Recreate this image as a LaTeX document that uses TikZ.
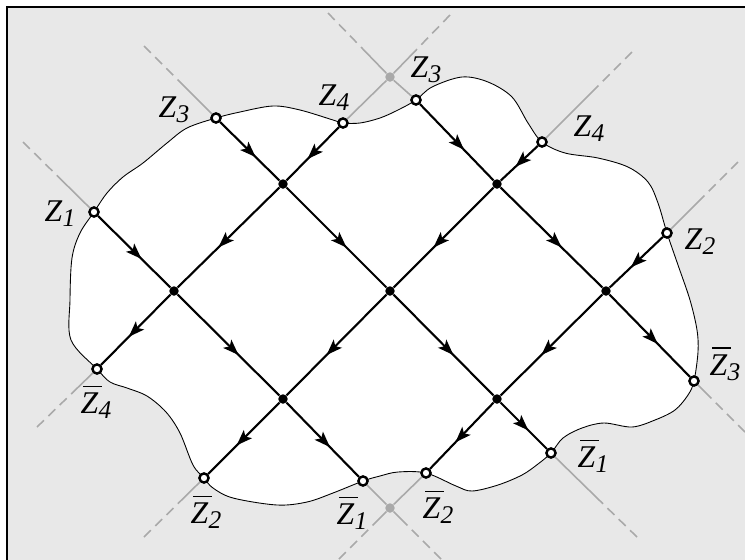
\documentclass[tikz,border=0pt]{standalone}
\usepackage{fontspec}
\setmainfont{Liberation Serif}
\usepackage{tikz}
\usetikzlibrary{arrows.meta,calc,backgrounds,decorations.markings}
\definecolor{fundo}{HTML}{E8E8E8}
\definecolor{cinza}{HTML}{A9A9A9}

\newcommand{\zl}[1]{\textit{Z\kern0.2pt\raisebox{-2.8pt}{\fontsize{14.5}{15}\selectfont #1}}}
\newcommand{\zbl}[1]{\textit{\rlap{\kern1.5pt\raisebox{15pt}{\rule{10.5pt}{0.9pt}}}Z\kern0.2pt\raisebox{-2.8pt}{\fontsize{14.5}{15}\selectfont #1}}}

\begin{document}
\begin{tikzpicture}[x=0.02cm, y=-0.02cm,
  ponto/.style={circle, fill=black, inner sep=0pt, minimum size=5.4pt},
  borda/.style={circle, draw=black, fill=white, line width=1.4pt, inner sep=0pt, minimum size=5.2pt},
  fantasma/.style={circle, fill=cinza, inner sep=0pt, minimum size=5.4pt},
  seta/.style={line width=1.2pt, postaction={decorate},
               decoration={markings, mark=at position 0.6 with {\arrow{Stealth[length=9pt,width=6.5pt,inset=2pt]}}}},
  prolong/.style={draw=cinza, line width=0.9pt, dash pattern=on 5.5pt off 3.5pt on 5.5pt off 3.5pt on 5.5pt off 3.5pt on 200pt},
  guia/.style={draw=cinza, line width=0.9pt},
  rotulo/.style={inner sep=0pt, font=\fontsize{18}{20}\selectfont}]

  \useasboundingbox (0,0) rectangle (745,559);

  % cruzamentos
  \node[ponto] (dTL) at (283,184) {};
  \node[ponto] (dTR) at (497,184) {};
  \node[ponto] (dML) at (174,291) {};
  \node[ponto] (dMC) at (390,291) {};
  \node[ponto] (dMR) at (606,291) {};
  \node[ponto] (dBL) at (283,399) {};
  \node[ponto] (dBR) at (497,399) {};
  \node[fantasma] (gtop) at (390,77) {};
  \node[fantasma] (gbot) at (390,508) {};

  % pontos da fronteira
  \node[borda] (z1)  at (94,212) {};
  \node[borda] (z3a) at (216,118) {};
  \node[borda] (z4a) at (343,123) {};
  \node[borda] (z3b) at (416,100) {};
  \node[borda] (z4b) at (542,142) {};
  \node[borda] (z2)  at (667,233) {};
  \node[borda] (w3)  at (694,381) {};
  \node[borda] (w1b) at (551,453) {};
  \node[borda] (w2b) at (426,473) {};
  \node[borda] (w1a) at (363,481) {};
  \node[borda] (w2a) at (204,478) {};
  \node[borda] (w4)  at (97,369) {};

  \coordinate (e1)    at (23,142);
  \coordinate (e3a)   at (144,46);
  \coordinate (etop3) at (328,13);
  \coordinate (etop4) at (450,15);
  \coordinate (e4b)   at (632,52);
  \coordinate (e2)    at (738,162);
  \coordinate (ew3)   at (745,432);
  \coordinate (ew1b)  at (637,537);
  \coordinate (ebot1) at (441,559);
  \coordinate (ebot2) at (339,559);
  \coordinate (ew2a)  at (144,537);
  \coordinate (ew4)   at (37,427);

  % linhas descendo para a direita
  \draw[seta] (z1) -- (dML);
  \draw[seta] (dML) -- (dBL);
  \draw[seta] (dBL) -- (w1a);
  \draw[seta] (z3a) -- (dTL);
  \draw[seta] (dTL) -- (dMC);
  \draw[seta] (dMC) -- (dBR);
  \draw[seta] (dBR) -- (w1b);
  \draw[seta] (z3b) -- (dTR);
  \draw[seta] (dTR) -- (dMR);
  \draw[seta] (dMR) -- (w3);
  % linhas descendo para a esquerda
  \draw[seta] (z4a) -- (dTL);
  \draw[seta] (dTL) -- (dML);
  \draw[seta] (dML) -- (w4);
  \draw[seta] (z4b) -- (dTR);
  \draw[seta] (dTR) -- (dMC);
  \draw[seta] (dMC) -- (dBL);
  \draw[seta] (dBL) -- (w2a);
  \draw[seta] (z2) -- (dMR);
  \draw[seta] (dMR) -- (dBR);
  \draw[seta] (dBR) -- (w2b);

  % prolongamentos
  \draw[prolong] (e1) -- (z1);
  \draw[prolong] (e3a) -- (z3a);
  \draw[prolong] (etop3) -- (gtop);
  \draw[guia] (gtop) -- (z3b);
  \draw[prolong] (etop4) -- (gtop);
  \draw[guia] (gtop) -- (z4a);
  \draw[prolong] (e4b) -- (z4b);
  \draw[prolong] (e2) -- (z2);
  \draw[prolong] (ew3) -- (w3);
  \draw[prolong] (ew1b) -- (w1b);
  \draw[prolong] (ebot1) -- (gbot);
  \draw[guia] (gbot) -- (w1a);
  \draw[prolong] (ebot2) -- (gbot);
  \draw[guia] (gbot) -- (w2b);
  \draw[prolong] (ew2a) -- (w2a);
  \draw[prolong] (ew4) -- (w4);

  % rotulos
  \node[rotulo] (lz1)  at ($(z1)+(-34,2)$)   {\zl{1}};
  \node[rotulo] (lz3a) at ($(z3a)+(-42,-8)$) {\zl{3}};
  \node[rotulo] (lz4a) at ($(z4a)+(-9,-25)$) {\zl{4}};
  \node[rotulo] (lz3b) at ($(z3b)+(10,-30)$) {\zl{3}};
  \node[rotulo] (lz4b) at ($(z4b)+(47,-13)$) {\zl{4}};
  \node[rotulo] (lz2)  at ($(z2)+(33,9)$)    {\zl{2}};
  \node[rotulo] (lw3)  at ($(w3)+(31,-17)$)  {\zbl{3}};
  \node[rotulo] (lw1b) at ($(w1b)+(42,3)$)   {\zbl{1}};
  \node[rotulo] (lw2b) at ($(w2b)+(12,34)$)  {\zbl{2}};
  \node[rotulo] (lw1a) at ($(w1a)+(-11,32)$) {\zbl{1}};
  \node[rotulo] (lw2a) at ($(w2a)+(2,34)$)   {\zbl{2}};
  \node[rotulo] (lw4)  at ($(w4)+(-1,33)$)   {\zbl{4}};

  \begin{scope}[on background layer]
    \fill[fundo] (7,7) rectangle (760,570);
    \draw[line width=0.8pt] (7,570) -- (7,7) -- (760,7);
    \draw[fill=white, line width=0.5pt] plot[smooth cycle, tension=0.55] coordinates {
      (z1.center) (107,193) (123,177) (143,163) (167,143) (187,128) (z3a.center)
      (240,112) (273,106) (300,110) (333,120) (z4a.center) (360,123) (380,118)
      (398,110) (z3b.center) (432,87) (462,77) (488,82) (512,97) (528,123)
      (z4b.center) (565,153) (598,158) (628,167) (648,182) (658,203) (z2.center)
      (678,265) (690,300) (697,330) (698,352) (w3.center) (688,395) (675,410)
      (655,420) (632,427) (604,423) (582,428) (563,438) (w1b.center) (538,464)
      (522,475) (498,485) (472,491) (456,486) (w2b.center) (398,472)
      (380,476) (w1a.center) (333,493) (307,502) (277,505) (233,498) (213,488)
      (w2a.center) (193,465) (180,433) (166,412) (147,396) (127,388) (110,382)
      (w4.center) (71,340) (70,300) (72,258) (80,233)};
  \end{scope}
\end{tikzpicture}
\end{document}
